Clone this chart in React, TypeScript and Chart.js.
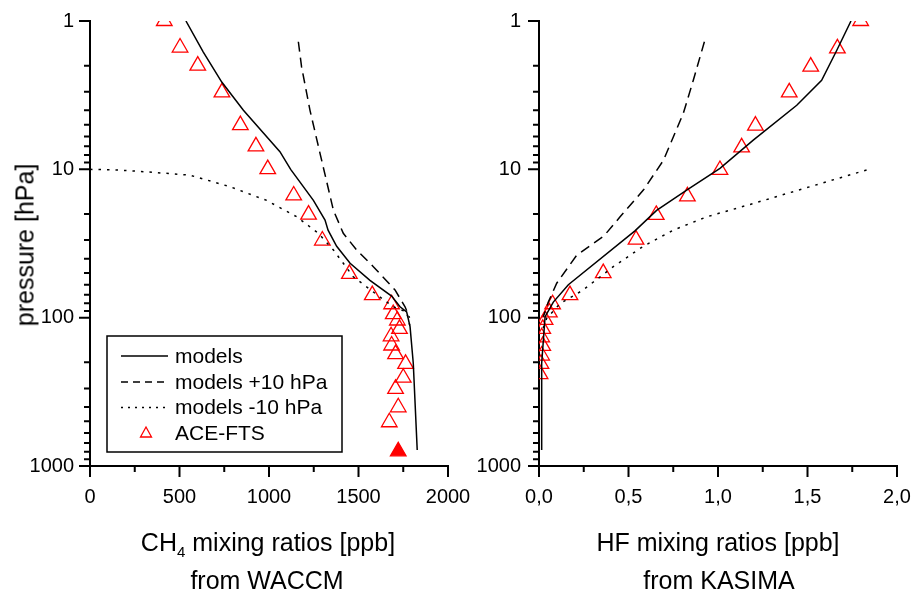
import React, { useEffect, useRef } from 'react';
import { Chart, registerables } from 'chart.js';

Chart.register(...registerables);

const FONT = "'Liberation Sans', Arial, Helvetica, sans-serif";

// ---- CH4 panel (WACCM) ----
const ch4ModelsVal = [536, 633, 736, 857, 1061, 1121, 1248, 1313, 1330, 1378, 1453, 1564, 1685, 1732, 1769, 1788, 1806, 1828];
const ch4ModelsP = [1, 1.62, 2.58, 4.0, 7.6, 10, 16.2, 22, 25.7, 33, 43, 56, 71.5, 84.5, 91.5, 115, 203, 780];
const ch4PlusVal = [1164, 1182, 1229, 1285, 1360, 1415, 1490, 1583, 1704, 1760, 1785];
const ch4PlusP = [1.38, 2.04, 4.0, 7.8, 18.9, 27, 35, 45.3, 65, 84.5, 100];
const ch4MinusVal = [0, 150, 317, 559, 782, 987, 1155, 1276, 1360, 1471, 1620, 1694, 1769, 1788];
const ch4MinusP = [10, 10.1, 10.4, 10.95, 13.1, 16.2, 20.9, 27, 35, 53, 72.6, 84.5, 91.5, 115];
const ch4AceVal = [415, 503, 602, 737, 840, 927, 993, 1138, 1221, 1298, 1449, 1577, 1685, 1694, 1717, 1729, 1682, 1685, 1707, 1763, 1750, 1707, 1722, 1672];
const ch4AceP = [1.0, 1.51, 2.0, 3.03, 5.03, 7.0, 9.97, 15.0, 20.2, 30.2, 50.7, 70.4, 81.2, 94.7, 104.5, 119, 133.5, 154, 176, 205, 254, 302, 402, 507];
const ch4AceFilledVal = [1722];
const ch4AceFilledP = [796];

// ---- HF panel (KASIMA) ----
const hfModelsVal = [1.743, 1.663, 1.579, 1.44, 1.197, 1.011, 0.825, 0.657, 0.536, 0.164, 0.08, 0.034, 0.015, 0.015];
const hfModelsP = [1, 1.58, 2.51, 3.7, 6.36, 9.85, 13.8, 18.9, 26, 60, 78.5, 98.5, 203, 780];
const hfPlusVal = [0.924, 0.862, 0.806, 0.695, 0.583, 0.453, 0.364, 0.21, 0.099, 0.052, 0.024];
const hfPlusP = [1.38, 2.51, 4.2, 8.7, 13.8, 20.9, 28, 38, 58.6, 78.5, 98.5];
const hfMinusVal = [1.83, 1.477, 1.197, 0.937, 0.75, 0.583, 0.415, 0.247, 0.117, 0.043, 0.02];
const hfMinusP = [10.1, 13.5, 17, 20.9, 25.7, 33, 45.3, 65, 80.6, 101, 120];
const hfAceVal = [1.797, 1.667, 1.518, 1.398, 1.209, 1.132, 1.011, 0.829, 0.655, 0.542, 0.359, 0.173, 0.076, 0.058, 0.034, 0.021, 0.015, 0.021, 0.015, 0.011, 0.006];
const hfAceP = [1.0, 1.53, 2.03, 3.03, 5.07, 7.11, 10.1, 15.2, 20.3, 29.8, 50.1, 70.4, 81.2, 92.1, 103.5, 119, 135.6, 155, 180, 205, 240];

// ---- axes ----
const pressureMajor = [1, 10, 100, 1000];
const pressureMinor = [2, 3, 4, 5, 6, 7, 8, 9, 20, 30, 40, 50, 60, 70, 80, 90, 200, 300, 400, 500, 600, 700, 800, 900];
const ch4Major = [0, 500, 1000, 1500, 2000];
const ch4Minor = [250, 750, 1250, 1750];
const hfMajor = [0, 0.5, 1.0, 1.5, 2.0];
const hfMinor = [0.25, 0.75, 1.25, 1.75];

const legendItems = ['models', 'models +10 hPa', 'models -10 hPa', 'ACE-FTS'];

const zip = (xs: number[], ys: number[]) => xs.map((x, i) => ({ x, y: ys[i] }));

const DASH = [10, 6];
const DOT = [2.5, 6];

function lineDs(label: string, xs: number[], ps: number[], dash: number[]) {
  return {
    label,
    data: zip(xs, ps),
    showLine: true,
    borderColor: '#000',
    borderWidth: 1.5,
    borderDash: dash,
    pointRadius: 0,
    fill: false,
    tension: 0,
  };
}

function aceDs(label: string, xs: number[], ps: number[], filled: boolean) {
  return {
    label,
    data: zip(xs, ps),
    showLine: false,
    pointStyle: 'triangle',
    pointRadius: 9,
    pointBorderWidth: 1.3,
    pointBorderColor: '#ff0000',
    pointBackgroundColor: filled ? '#ff0000' : 'rgba(0,0,0,0)',
  };
}

function tickPlugin(xMaj: number[], xMin: number[]) {
  return {
    id: 'customTicks',
    afterDraw(chart: any) {
      const { ctx, chartArea, scales } = chart;
      const x = scales.x;
      const y = scales.y;
      ctx.save();
      ctx.strokeStyle = '#000';
      ctx.lineWidth = 2;
      ctx.beginPath();
      for (const v of pressureMajor) {
        const py = y.getPixelForValue(v);
        ctx.moveTo(chartArea.left - 11, py);
        ctx.lineTo(chartArea.left, py);
      }
      for (const v of pressureMinor) {
        const py = y.getPixelForValue(v);
        ctx.moveTo(chartArea.left - 6, py);
        ctx.lineTo(chartArea.left, py);
      }
      for (const v of xMaj) {
        const px = x.getPixelForValue(v);
        ctx.moveTo(px, chartArea.bottom);
        ctx.lineTo(px, chartArea.bottom + 11);
      }
      for (const v of xMin) {
        const px = x.getPixelForValue(v);
        ctx.moveTo(px, chartArea.bottom);
        ctx.lineTo(px, chartArea.bottom + 6);
      }
      ctx.stroke();
      ctx.restore();
    },
  };
}

const legendPlugin = {
  id: 'boxLegend',
  afterDraw(chart: any) {
    const { ctx } = chart;
    ctx.save();
    ctx.fillStyle = '#fff';
    ctx.fillRect(107, 336, 235, 116);
    ctx.strokeStyle = '#000';
    ctx.lineWidth = 1.5;
    ctx.strokeRect(107, 336, 235, 116);
    const rows = [356, 382, 407.5, 433];
    const dashes = [[], [7, 5], [2, 5]];
    ctx.lineWidth = 1.5;
    for (let i = 0; i < 3; i++) {
      ctx.setLineDash(dashes[i]);
      ctx.beginPath();
      ctx.moveTo(121, rows[i]);
      ctx.lineTo(168, rows[i]);
      ctx.stroke();
    }
    ctx.setLineDash([]);
    // triangle marker
    ctx.strokeStyle = '#ff0000';
    ctx.lineWidth = 1.3;
    ctx.beginPath();
    ctx.moveTo(146, rows[3] - 6);
    ctx.lineTo(151.5, rows[3] + 4);
    ctx.lineTo(140.5, rows[3] + 4);
    ctx.closePath();
    ctx.stroke();
    ctx.fillStyle = '#000';
    ctx.font = `21px ${FONT}`;
    ctx.textBaseline = 'middle';
    ctx.textAlign = 'left';
    legendItems.forEach((t, i) => ctx.fillText(t, 175, rows[i] + 1));
    ctx.restore();
  },
};

function makeConfig(
  datasets: any[],
  xMin: number,
  xMax: number,
  xMaj: number[],
  xMinr: number[],
  fmt: (v: number) => string,
  yWidth: number,
  yPad: number,
  padRight: number,
  plugins: any[]
) {
  return {
    type: 'scatter',
    data: { datasets },
    options: {
      responsive: false,
      animation: false,
      events: [],
      layout: { padding: { top: 21, right: padRight, bottom: 0, left: 0 } },
      plugins: { legend: { display: false }, tooltip: { enabled: false } },
      scales: {
        x: {
          type: 'linear',
          min: xMin,
          max: xMax,
          afterBuildTicks: (s: any) => {
            s.ticks = xMaj.map((v) => ({ value: v }));
          },
          afterFit: (s: any) => {
            s.height = 133;
            s.paddingLeft = 0;
            s.paddingRight = 0;
          },
          grid: { display: true, drawOnChartArea: false, drawTicks: true, tickLength: 11, color: 'rgba(0,0,0,0)' },
          border: { display: true, color: '#000', width: 2 },
          ticks: {
            autoSkip: false,
            maxRotation: 0,
            padding: 8,
            color: '#000',
            font: { family: FONT, size: 20 },
            callback: (v: any) => fmt(Number(v)),
          },
        },
        y: {
          type: 'logarithmic',
          min: 1,
          max: 1000,
          reverse: true,
          afterBuildTicks: (s: any) => {
            s.ticks = pressureMajor.map((v) => ({ value: v }));
          },
          afterFit: (s: any) => {
            s.width = yWidth;
            s.paddingTop = 0;
            s.paddingBottom = 0;
          },
          grid: { display: true, drawOnChartArea: false, drawTicks: true, tickLength: 11, color: 'rgba(0,0,0,0)' },
          border: { display: true, color: '#000', width: 2 },
          ticks: {
            autoSkip: false,
            padding: yPad,
            color: '#000',
            font: { family: FONT, size: 20 },
            callback: (v: any) => String(Number(v)),
          },
        },
      },
    },
    plugins: [tickPlugin(xMaj, xMinr), ...plugins],
  };
}

export default function App() {
  const leftRef = useRef<HTMLCanvasElement>(null);
  const rightRef = useRef<HTMLCanvasElement>(null);

  useEffect(() => {
    const left = new Chart(
      leftRef.current as HTMLCanvasElement,
      makeConfig(
        [
          lineDs('models', ch4ModelsVal, ch4ModelsP, []),
          lineDs('models +10 hPa', ch4PlusVal, ch4PlusP, DASH),
          lineDs('models -10 hPa', ch4MinusVal, ch4MinusP, DOT),
          aceDs('ACE-FTS', ch4AceVal, ch4AceP, false),
          aceDs('ACE-FTS (filled)', ch4AceFilledVal, ch4AceFilledP, true),
        ],
        0,
        2000,
        ch4Major,
        ch4Minor,
        (v) => String(v),
        90,
        5,
        22,
        [legendPlugin]
      ) as any
    );
    const right = new Chart(
      rightRef.current as HTMLCanvasElement,
      makeConfig(
        [
          lineDs('models', hfModelsVal, hfModelsP, []),
          lineDs('models +10 hPa', hfPlusVal, hfPlusP, DASH),
          lineDs('models -10 hPa', hfMinusVal, hfMinusP, DOT),
          aceDs('ACE-FTS', hfAceVal, hfAceP, false),
        ],
        0,
        2,
        hfMajor,
        hfMinor,
        (v) => v.toFixed(1).replace('.', ','),
        79,
        7,
        18,
        []
      ) as any
    );
    return () => {
      left.destroy();
      right.destroy();
    };
  }, []);

  const titleStyle: React.CSSProperties = {
    position: 'absolute',
    width: 400,
    textAlign: 'center',
    fontFamily: FONT,
    fontSize: 25,
    lineHeight: '25px',
    color: '#000',
    whiteSpace: 'nowrap',
  };

  return (
    <div style={{ position: 'absolute', left: 0, top: 0, width: 915, height: 599, background: '#fff', overflow: 'hidden' }}>
      <canvas ref={leftRef} width={470} height={599} style={{ position: 'absolute', left: 0, top: 0 }} />
      <canvas ref={rightRef} width={455} height={599} style={{ position: 'absolute', left: 460, top: 0 }} />
      <div
        style={{
          position: 'absolute',
          left: 25,
          top: 245,
          transform: 'translate(-50%, -50%) rotate(-90deg)',
          fontFamily: FONT,
          fontSize: 25,
          lineHeight: '25px',
          whiteSpace: 'nowrap',
          color: '#000',
        }}
      >
        pressure [hPa]
      </div>
      <div style={{ ...titleStyle, left: 268 - 200, top: 530 }}>
        CH<span style={{ fontSize: 15, position: 'relative', top: 6 }}>4</span> mixing ratios [ppb]
      </div>
      <div style={{ ...titleStyle, left: 267 - 200, top: 568 }}>from WACCM</div>
      <div style={{ ...titleStyle, left: 718 - 200, top: 530 }}>HF mixing ratios [ppb]</div>
      <div style={{ ...titleStyle, left: 719 - 200, top: 568 }}>from KASIMA</div>
    </div>
  );
}
